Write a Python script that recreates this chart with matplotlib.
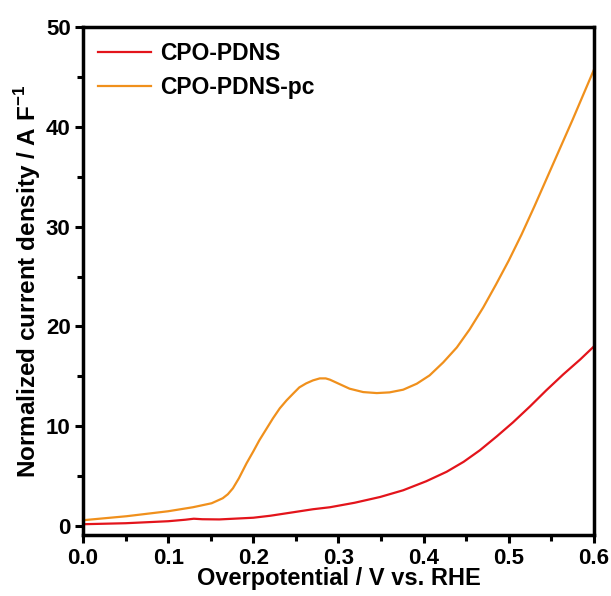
import matplotlib
matplotlib.use("Agg")
import matplotlib.pyplot as plt
from matplotlib.ticker import MultipleLocator, FormatStrFormatter

plt.rcParams['font.family'] = ['Liberation Sans', 'DejaVu Sans']
plt.rcParams['font.weight'] = 'bold'
plt.rcParams['mathtext.default'] = 'bf'

# CPO-PDNS
pdns_x = [0.0, 0.05, 0.1, 0.12, 0.13, 0.14, 0.16, 0.2, 0.22, 0.247, 0.27,
          0.29, 0.319, 0.349, 0.376, 0.403, 0.427, 0.447, 0.466, 0.486,
          0.505, 0.525, 0.544, 0.564, 0.584, 0.6]
pdns_y = [0.2, 0.3, 0.5, 0.65, 0.75, 0.7, 0.68, 0.85, 1.05, 1.4, 1.7,
          1.9, 2.35, 2.93, 3.6, 4.5, 5.45, 6.45, 7.6, 9.0,
          10.4, 12.0, 13.6, 15.2, 16.7, 18.0]

# CPO-PDNS-pc
pc_x = [0.0, 0.051, 0.1, 0.129, 0.151, 0.164, 0.17, 0.176, 0.183, 0.192,
        0.2, 0.207, 0.215, 0.223, 0.231, 0.239, 0.247, 0.254, 0.262, 0.27,
        0.278, 0.285, 0.29, 0.302, 0.313, 0.329, 0.345, 0.36, 0.376, 0.392,
        0.407, 0.423, 0.439, 0.454, 0.47, 0.485, 0.5, 0.515, 0.53,
        0.545, 0.56, 0.575, 0.59, 0.6]
pc_y = [0.6, 1.0, 1.5, 1.9, 2.3, 2.8, 3.2, 3.8, 4.8, 6.3,
        7.5, 8.6, 9.7, 10.8, 11.8, 12.6, 13.3, 13.9, 14.3, 14.6,
        14.8, 14.8, 14.67, 14.2, 13.77, 13.43, 13.33, 13.4, 13.67, 14.27,
        15.1, 16.4, 17.9, 19.7, 21.9, 24.2, 26.6, 29.2, 32.0,
        34.9, 37.8, 40.7, 43.7, 45.7]

fig = plt.figure(figsize=(6.11, 5.96), dpi=100)
ax = fig.add_axes([0.136, 0.102, 0.836, 0.853])

ax.plot(pdns_x, pdns_y, color='#e3141b', lw=1.6, label='CPO-PDNS')
ax.plot(pc_x, pc_y, color='#f0901c', lw=1.6, label='CPO-PDNS-pc')

ax.set_xlim(0, 0.6)
ax.set_ylim(-0.9, 50)
ax.xaxis.set_major_locator(MultipleLocator(0.1))
ax.xaxis.set_minor_locator(MultipleLocator(0.05))
ax.yaxis.set_major_locator(MultipleLocator(10))
ax.yaxis.set_minor_locator(MultipleLocator(5))
ax.xaxis.set_major_formatter(FormatStrFormatter('%.1f'))

ax.tick_params(which='major', direction='out', length=6, width=2.2,
               labelsize=16, pad=3)
ax.tick_params(which='minor', direction='out', length=4, width=2.2)
for s in ax.spines.values():
    s.set_linewidth(2.5)

ax.set_xlabel('Overpotential / V vs. RHE', fontsize=17, fontweight='bold',
              labelpad=-1)
ax.set_ylabel('Normalized current density / A F$^{\\mathregular{-1}}$',
              fontsize=17.5, fontweight='bold', labelpad=2)

ax.legend(loc='upper left', frameon=False, fontsize=16.5, handlelength=2.3,
          borderaxespad=0.25, labelspacing=0.5, handletextpad=0.4)

fig.savefig('out.png', dpi=100)
